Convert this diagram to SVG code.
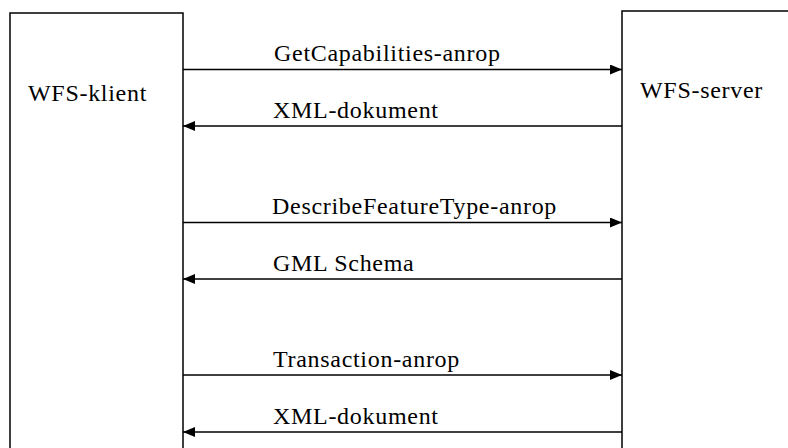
<svg xmlns="http://www.w3.org/2000/svg" width="788" height="448" viewBox="0 0 788 448">
  <style>
    .box { fill: #fff; stroke: #000; stroke-width: 1.5; }
    .lbl { font-family: "Liberation Serif", "Times New Roman", serif; font-size: 24px; letter-spacing: 0.7px; fill: #000; }
    .msg { stroke: #000; stroke-width: 1.5; fill: none; }
  </style>
  <defs>
    <marker id="head" markerWidth="12" markerHeight="10" refX="12" refY="5" orient="auto" markerUnits="userSpaceOnUse">
      <path d="M0,0 L12,5 L0,10 Z" fill="#000"/>
    </marker>
  </defs>
  <rect width="788" height="448" fill="#fff"/>
  <g id="client">
    <rect class="box" x="10" y="13" width="173" height="450"/>
    <text class="lbl" x="28" y="100.5">WFS-klient</text>
  </g>
  <g id="server">
    <rect class="box" x="622" y="11" width="180" height="450"/>
    <text class="lbl" x="640" y="97.5">WFS-server</text>
  </g>
  <g id="messages">
    <line class="msg" x1="183" y1="69.5" x2="622" y2="69.5" marker-end="url(#head)"/>
    <text class="lbl" x="274" y="61">GetCapabilities-anrop</text>
    <line class="msg" x1="622" y1="126" x2="183" y2="126" marker-end="url(#head)"/>
    <text class="lbl" x="273" y="117.5">XML-dokument</text>
    <line class="msg" x1="183" y1="222.5" x2="622" y2="222.5" marker-end="url(#head)"/>
    <text class="lbl" x="272" y="213.5">DescribeFeatureType-anrop</text>
    <line class="msg" x1="622" y1="279" x2="183" y2="279" marker-end="url(#head)"/>
    <text class="lbl" x="273" y="270.5">GML Schema</text>
    <line class="msg" x1="183" y1="375" x2="622" y2="375" marker-end="url(#head)"/>
    <text class="lbl" x="273" y="366.5">Transaction-anrop</text>
    <line class="msg" x1="622" y1="432" x2="183" y2="432" marker-end="url(#head)"/>
    <text class="lbl" x="273" y="423.5">XML-dokument</text>
  </g>
</svg>
